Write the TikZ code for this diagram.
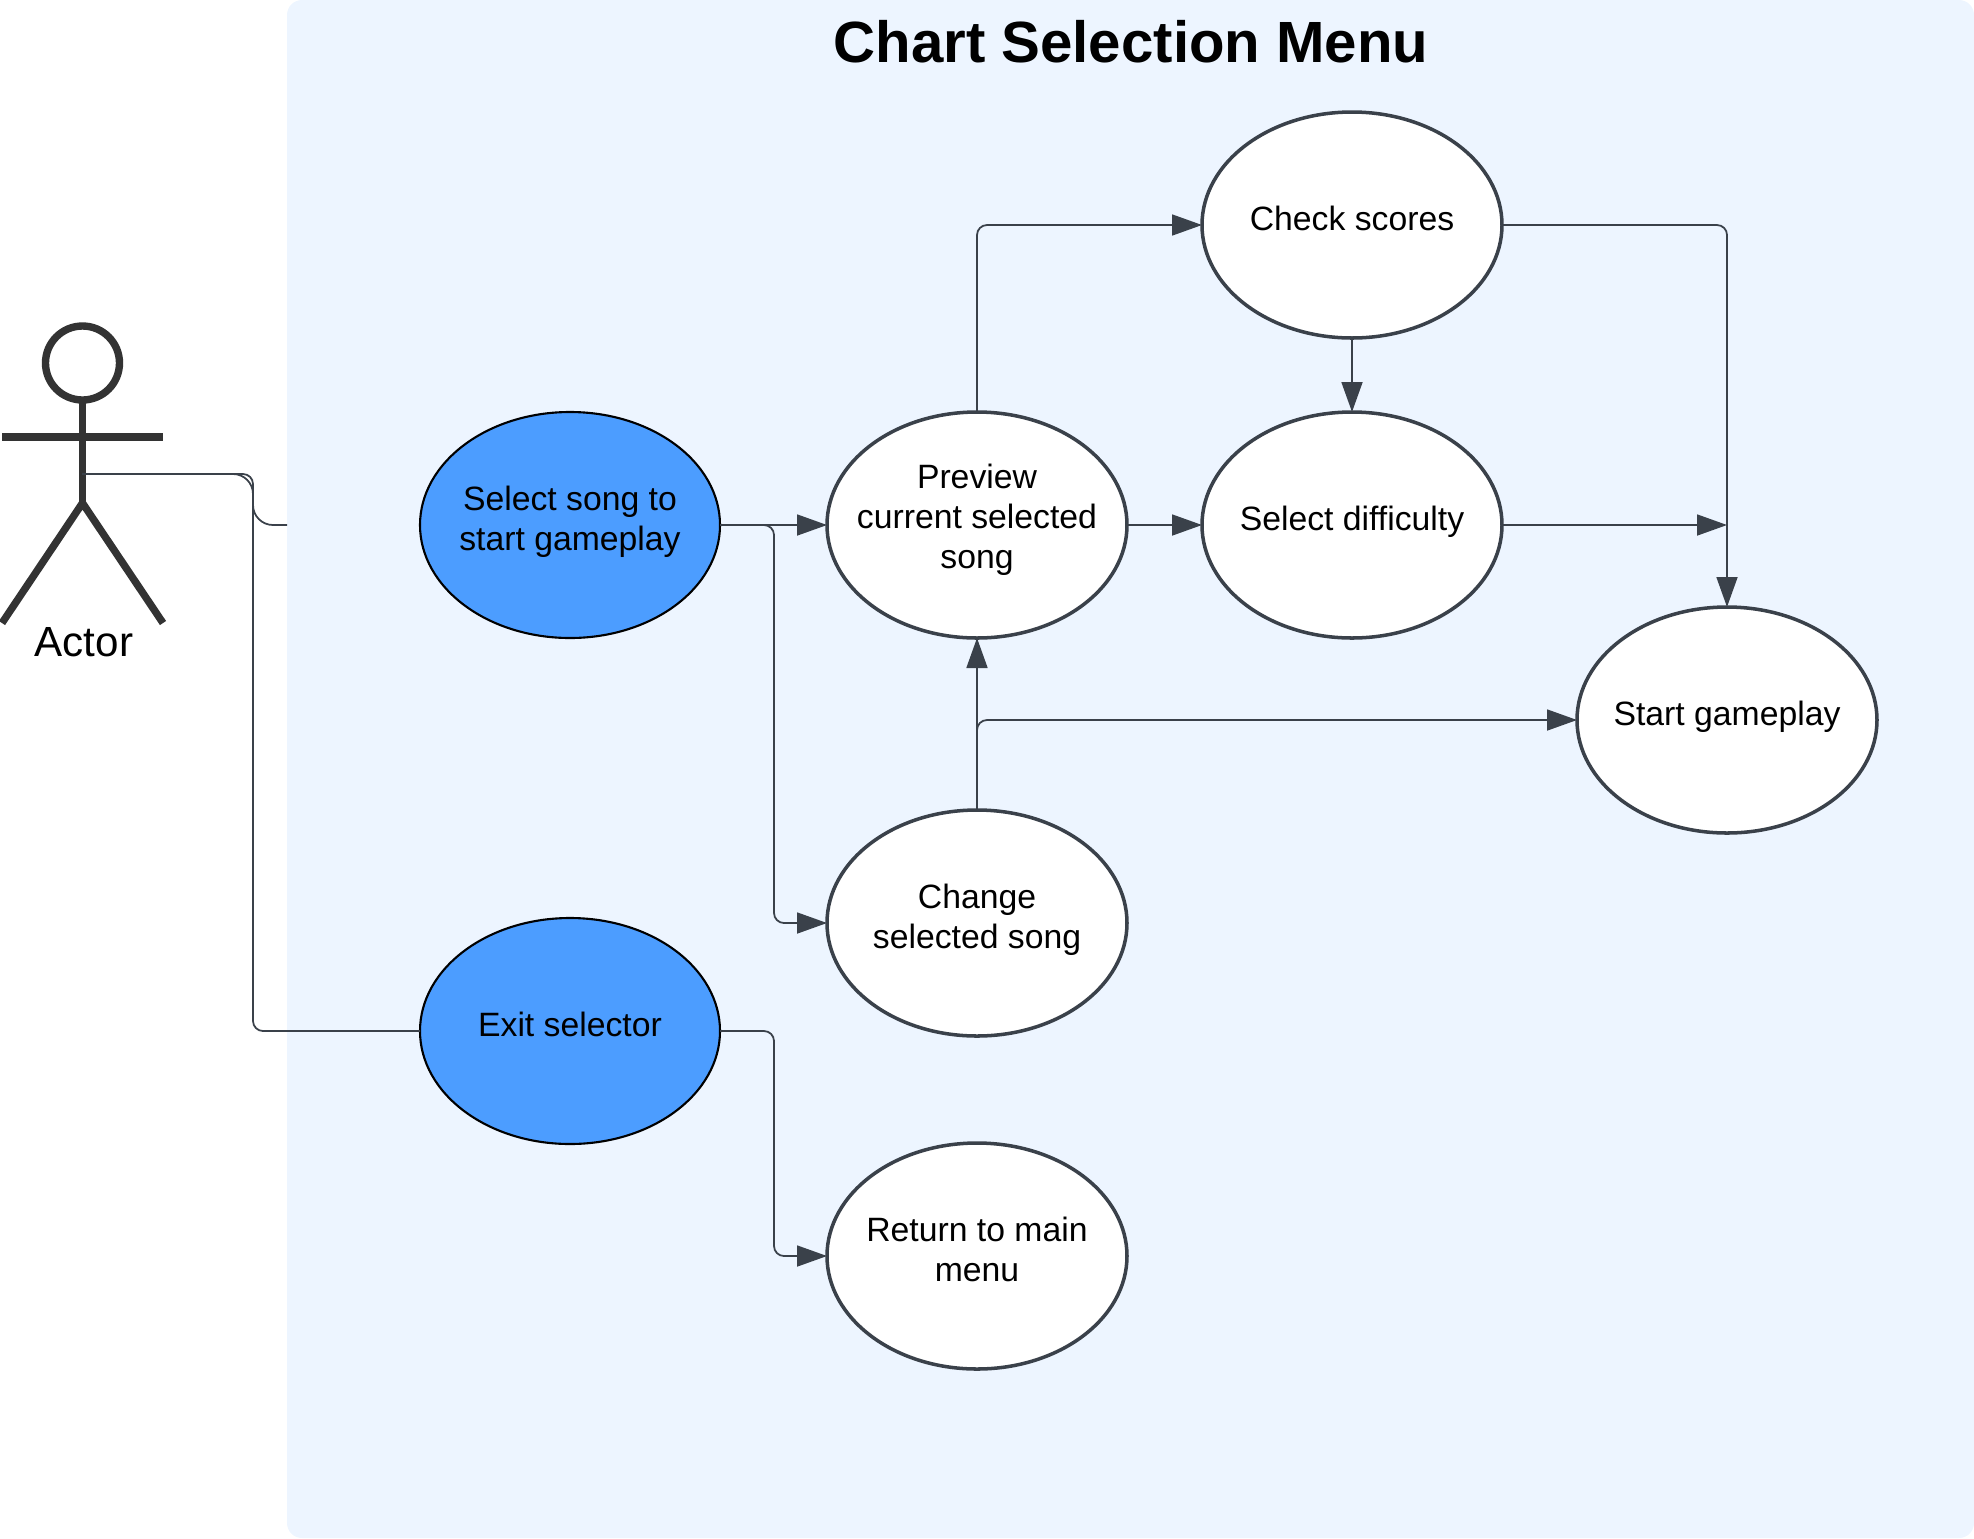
\documentclass[tikz,border=0pt]{standalone}
\usepackage{fontspec}
\setmainfont{Liberation Sans}
\usepackage{xcolor}
\usetikzlibrary{shapes.geometric, arrows.meta, positioning, calc}
\definecolor{regionblue}{HTML}{EDF5FF}
\definecolor{caseblue}{HTML}{4C9DFF}
\definecolor{slategray}{HTML}{3A414A}
\definecolor{actorgray}{HTML}{333333}

\begin{document}
\begin{tikzpicture}[
    usecase/.style={ellipse, draw=slategray, fill=white, line width=1pt, inner xsep=-0.2cm, inner ysep=0pt, outer sep=0pt, minimum width=3cm, minimum height=2.26cm, align=center, text depth=0.13cm, font=\fontsize{9.6}{11.4}\selectfont},
    choice/.style={usecase, draw=black, fill=caseblue, line width=0.6pt},
    arrow/.style={-{Triangle[length=0.3cm, width=0.21cm]}, line width=0.5pt, color=slategray, rounded corners=0.1cm},
    link/.style={line width=0.5pt, color=slategray, rounded corners=0.1cm},
    figure/.style={draw=actorgray, line width=2.1pt}
]
    \useasboundingbox (0,0) rectangle (19.74,-15.38);
    \fill[regionblue, rounded corners=0.15cm] (2.87,0) rectangle (19.74,-15.38);
    \node[font=\fontsize{16.55}{18}\selectfont\bfseries] (title) at (11.31,-0.42) {Chart Selection Menu};

    % actor
    \draw[figure] (0.825,-3.63) circle (0.37);
    \draw[figure] (0.825,-4.00) -- (0.825,-5.03);
    \draw[figure] (0.02,-4.37) -- (1.63,-4.37);
    \draw[figure] (0.02,-6.23) -- (0.825,-5.03) -- (1.63,-6.23);
    \node[font=\fontsize{12}{14}\selectfont] (actorlabel) at (0.84,-6.42) {Actor};
    \coordinate (actor) at (0.82,-4.74);
    \coordinate (edge) at (2.87,-5.25);

    \node[choice] (sel) at (5.70,-5.25) {Select song to\\start gameplay};
    \node[usecase, right=1.07cm of sel, text depth=0.17cm] (prev) {Preview\\current selected\\song};
    \node[usecase, right=0.75cm of prev] (diff) {Select difficulty};
    \node[usecase, above=0.74cm of diff] (check) {Check scores};
    \node[usecase] (start) at (17.27,-7.20) {Start gameplay};
    \node[usecase, below=1.72cm of prev] (change) {Change\\selected song};
    \node[choice, below=2.80cm of sel] (exit) {Exit selector};
    \node[usecase, below=1.07cm of change] (back) {Return to main\\menu};

    \draw[link, rounded corners=0.2cm] (actor) -- (2.53,-4.74) -- (2.53,-5.25) -- (edge);
    \draw[link] (actor) -- (2.53,-4.74) -- (2.53,-10.31) -- (exit.west);
    \draw[arrow] (sel) -- (prev);
    \draw[arrow] (sel.east) -- (7.74,-5.25) -- (7.74,-9.23) -- (change.west);
    \draw[arrow] (prev.north) |- (check.west);
    \draw[arrow] (prev) -- (diff);
    \draw[arrow] (check) -- (diff);
    \draw[arrow] (check.east) -| (start.north);
    \draw[arrow] (diff.east) -- (start.north |- diff.east);
    \draw[arrow] (change) -- (prev);
    \draw[arrow] (change.north) |- (start.west);
    \draw[arrow] (exit.east) -- (7.74,-10.31) -- (7.74,-12.56) -- (back.west);
\end{tikzpicture}
\end{document}
